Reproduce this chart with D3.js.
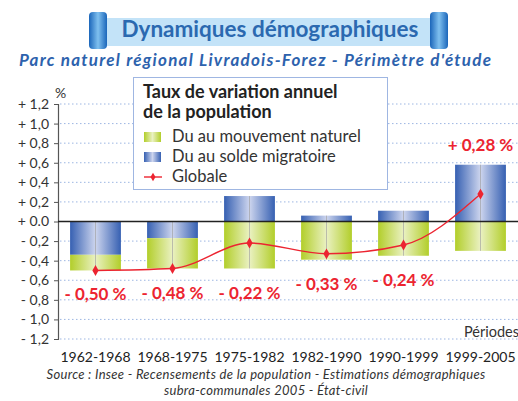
<!DOCTYPE html>
<html>
<head>
<meta charset="utf-8">
<script src="https://cdn.jsdelivr.net/npm/d3@7"></script>
<style>
  html, body { margin: 0; padding: 0; background: #fff; }
  svg { display: block; font-family: Lato, "Open Sans", sans-serif; }
</style>
</head>
<body>
<svg id="chart" width="518" height="401"></svg>
<script>
// Périodes intercensitaires
const periods = ["1962-1968", "1968-1975", "1975-1982", "1982-1990", "1990-1999", "1999-2005"];
// Taux annuel dû au solde migratoire (%)
const migratoire = [-0.34, -0.17, 0.26, 0.06, 0.11, 0.58];
// Taux annuel dû au mouvement naturel (%)
const naturel = [-0.16, -0.31, -0.48, -0.39, -0.35, -0.30];
// Taux de variation annuel global (%)
const globale = [-0.50, -0.48, -0.22, -0.33, -0.24, 0.28];
const globaleLabels = ["- 0,50 %", "- 0,48 %", "- 0,22 %", "- 0,33 %", "- 0,24 %", "+ 0,28 %"];
// Graduations de l'axe vertical
const yTicks = [1.2, 1.0, 0.8, 0.6, 0.4, 0.2, 0, -0.2, -0.4, -0.6, -0.8, -1.0, -1.2];
const yTickLabels = ["+ 1,2", "+ 1,0", "+ 0,8", "+ 0,6", "+ 0,4", "+ 0,2", "+ 0.0",
                     "- 0,2", "- 0,4", "- 0,6", "- 0,8", "- 1,0", "- 1,2"];

const svg = d3.select("#chart");
const defs = svg.append("defs");

function hGradient(id, edge, mid) {
  const g = defs.append("linearGradient").attr("id", id)
    .attr("x1", "0%").attr("x2", "100%").attr("y1", "0%").attr("y2", "0%");
  g.append("stop").attr("offset", "0%").attr("stop-color", edge);
  g.append("stop").attr("offset", "50%").attr("stop-color", mid);
  g.append("stop").attr("offset", "100%").attr("stop-color", edge);
}
hGradient("gBlue", "#3660b2", "#cdd5ee");
hGradient("gGreen", "#b2ce2a", "#eaf1c2");
hGradient("gTab", "#1b66ba", "#7fc0ef");

// ---- Bandeau de titre ----
svg.append("rect").attr("x", 107).attr("y", 18).attr("width", 323).attr("height", 28)
  .attr("fill", "#c3e3f8");
[89, 430].forEach(x => {
  svg.append("rect").attr("x", x).attr("y", 12).attr("width", 18).attr("height", 37)
    .attr("rx", 4).attr("fill", "url(#gTab)");
});
svg.append("text").attr("x", 270).attr("y", 37).attr("text-anchor", "middle")
  .attr("font-size", 22.5).attr("font-weight", 700).attr("fill", "#2b69b0")
  .text("Dynamiques démographiques");
svg.append("text").attr("x", 255).attr("y", 66).attr("text-anchor", "middle")
  .attr("font-size", 17).attr("font-weight", 700).attr("font-style", "italic")
  .attr("fill", "#2d62ad").attr("textLength", 472).attr("lengthAdjust", "spacing")
  .text("Parc naturel régional Livradois-Forez - Périmètre d'étude");

// ---- Échelles ----
const x = d3.scaleBand().domain(periods).range([57, 519]).paddingInner(0.34).paddingOuter(0.17);
const y = d3.scaleLinear().domain([-1.2, 1.2]).range([339, 104]);
const axisX = 58;

// Quadrillage pointillé
svg.append("g").selectAll("line").data(yTicks.filter(d => d !== 0)).join("line")
  .attr("x1", axisX + 2).attr("x2", 518)
  .attr("y1", d => y(d)).attr("y2", d => y(d))
  .attr("stroke", "#9db6e2").attr("stroke-width", 1).attr("stroke-dasharray", "1.5,2.5");

// Axe vertical
const yAxis = d3.axisLeft(y).tickValues(yTicks).tickSize(4).tickPadding(5)
  .tickFormat((d, i) => yTickLabels[i]);
const gAxis = svg.append("g").attr("transform", `translate(${axisX},0)`).call(yAxis);
gAxis.select(".domain").attr("stroke", "#555").attr("stroke-width", 1.2);
gAxis.selectAll(".tick line").attr("stroke", "#555");
gAxis.selectAll(".tick text").attr("font-family", "Lato, sans-serif")
  .attr("font-size", 14).attr("fill", "#333");
svg.append("text").attr("x", 55).attr("y", 98).attr("font-size", 14).attr("fill", "#333").text("%");

// ---- Barres empilées ----
const rows = periods.map((p, i) => ({ period: p, migratoire: migratoire[i], naturel: naturel[i] }));
const stack = d3.stack().keys(["migratoire", "naturel"]).offset(d3.stackOffsetDiverging);
const series = stack(rows);
const fills = { migratoire: "url(#gBlue)", naturel: "url(#gGreen)" };

series.forEach(s => {
  svg.append("g").selectAll("rect").data(s).join("rect")
    .attr("x", d => x(d.data.period))
    .attr("width", x.bandwidth())
    .attr("y", d => y(Math.max(d[0], d[1])))
    .attr("height", d => Math.abs(y(d[0]) - y(d[1])))
    .attr("fill", fills[s.key]);
});

// Trait central de chaque barre
const extent = rows.map((r, i) => {
  const vals = series.flatMap(s => [s[i][0], s[i][1]]);
  return { period: r.period, top: d3.max(vals), bottom: d3.min(vals) };
});
svg.append("g").selectAll("line").data(extent).join("line")
  .attr("x1", d => x(d.period) + x.bandwidth() / 2).attr("x2", d => x(d.period) + x.bandwidth() / 2)
  .attr("y1", d => y(d.top)).attr("y2", d => y(d.bottom))
  .attr("stroke", "#9a9a9a").attr("stroke-opacity", 0.6).attr("stroke-width", 1);

// Ligne du zéro
svg.append("line").attr("x1", axisX).attr("x2", 518).attr("y1", y(0)).attr("y2", y(0))
  .attr("stroke", "#222").attr("stroke-width", 1.3);

// ---- Courbe globale ----
const pts = periods.map((p, i) => [x(p) + x.bandwidth() / 2, y(globale[i])]);
svg.append("path").attr("d", d3.line().curve(d3.curveMonotoneX)(pts))
  .attr("fill", "none").attr("stroke", "#ec2430").attr("stroke-width", 1.4);
svg.append("g").selectAll("path").data(pts).join("path")
  .attr("transform", d => `translate(${d[0]},${d[1]})`)
  .attr("d", d3.symbol(d3.symbolDiamond, 34))
  .attr("fill", "#ec2430");

// Étiquettes de valeur
svg.append("g").selectAll("text").data(extent).join("text")
  .attr("x", d => x(d.period) + x.bandwidth() / 2)
  .attr("y", (d, i) => globale[i] < 0 ? y(d.bottom) + 30 : y(d.top) - 14)
  .attr("text-anchor", "middle").attr("font-size", 17).attr("font-weight", 700)
  .attr("fill", "#ec2430")
  .text((d, i) => globaleLabels[i]);

// ---- Axe des périodes ----
svg.append("g").selectAll("text").data(periods).join("text")
  .attr("x", d => x(d) + x.bandwidth() / 2).attr("y", 362)
  .attr("text-anchor", "middle").attr("font-size", 14).attr("fill", "#222")
  .text(d => d);
svg.append("text").attr("x", 519).attr("y", 337).attr("text-anchor", "end")
  .attr("font-size", 14.5).attr("fill", "#333").text("Périodes");

// ---- Légende ----
const lg = svg.append("g");
lg.append("rect").attr("x", 133.5).attr("y", 77.5).attr("width", 254).attr("height", 112)
  .attr("fill", "#fff").attr("stroke", "#9fb6e2").attr("stroke-width", 1);
lg.append("text").attr("x", 143).attr("y", 98).attr("font-size", 18).attr("font-weight", 700)
  .attr("fill", "#222").text("Taux de variation annuel");
lg.append("text").attr("x", 143).attr("y", 118).attr("font-size", 18).attr("font-weight", 700)
  .attr("fill", "#222").text("de la population");
const legendItems = [
  { label: "Du au mouvement naturel", fill: "url(#gGreen)" },
  { label: "Du au solde migratoire", fill: "url(#gBlue)" },
  { label: "Globale", line: true }
];
legendItems.forEach((it, i) => {
  const cy = 137 + i * 20;
  if (it.line) {
    lg.append("line").attr("x1", 144).attr("x2", 162).attr("y1", cy).attr("y2", cy)
      .attr("stroke", "#ec2430").attr("stroke-width", 1.4);
    lg.append("path").attr("transform", `translate(153,${cy})`)
      .attr("d", d3.symbol(d3.symbolDiamond, 22)).attr("fill", "#ec2430");
  } else {
    lg.append("rect").attr("x", 144).attr("y", cy - 5).attr("width", 17).attr("height", 10)
      .attr("fill", it.fill);
  }
  lg.append("text").attr("x", 172).attr("y", cy + 5).attr("font-size", 16.5)
    .attr("fill", "#333").text(it.label);
});

// ---- Source ----
const src = ["Source : Insee - Recensements de la population - Estimations démographiques",
             "subra-communales 2005 - État-civil"];
svg.append("g").selectAll("text").data(src).join("text")
  .attr("x", 266).attr("y", (d, i) => 379 + i * 16)
  .attr("text-anchor", "middle").attr("font-size", 13).attr("letter-spacing", 0.3)
  .attr("font-style", "italic").attr("fill", "#333").text(d => d);
</script>
</body>
</html>
